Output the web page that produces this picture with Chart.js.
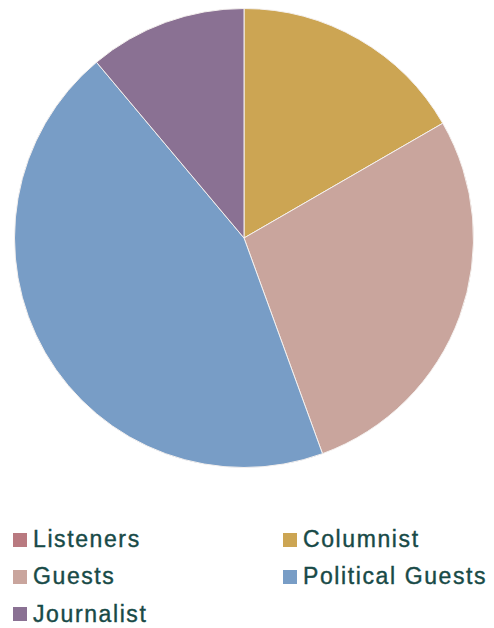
<!DOCTYPE html>
<html>
<head>
<meta charset="utf-8">
<script src="https://cdn.jsdelivr.net/npm/chart.js@4/dist/chart.umd.min.js"></script>
<style>
    html, body { margin: 0; padding: 0; background: #fff; }
    body { width: 494px; height: 628px; position: relative; overflow: hidden; }
    #chartBox { position: absolute; left: 0; top: 8px; width: 488px; height: 460px; }
    #legend {
        position: absolute; left: 13px; top: 521px; width: 481px;
        display: grid; grid-template-columns: 270px 211px; row-gap: 0;
        font-family: "Liberation Sans", Arial, sans-serif; font-size: 23px;
        letter-spacing: 1.6px; color: #184a47;
        -webkit-text-stroke: 0.4px #184a47;
    }
    .item { display: flex; align-items: center; height: 37.3px; white-space: nowrap; }
    .box { width: 14px; height: 14px; margin-right: 6px; flex: none; }
</style>
</head>
<body>
<div id="chartBox"><canvas id="myChart"></canvas></div>
<div id="legend"></div>

<script>
const labels = ['Listeners', 'Columnist', 'Guests', 'Political Guests', 'Journalist'];
const values = [0, 15, 25, 40, 10];
const colors = ['#b97a80', '#cca553', '#c9a59d', '#789dc6', '#8a7193'];

function buildLegend() {
    const legendDiv = document.getElementById('legend');
    legendDiv.innerHTML = labels.map((label, i) =>
        `<div class="item"><span class="box" style="background:${colors[i]}"></span>${label}</div>`
    ).join('');
}

const ctx = document.getElementById('myChart').getContext('2d');
const myChart = new Chart(ctx, {
    type: 'pie',
    data: {
        labels: labels,
        datasets: [{
            data: values,
            backgroundColor: colors,
            borderColor: '#f4f0ee',
            borderWidth: 1
        }]
    },
    options: {
        responsive: true,
        maintainAspectRatio: false,
        animation: false,
        layout: { padding: 0 },
        plugins: {
            legend: { display: false },
            tooltip: { enabled: false }
        }
    }
});

buildLegend();
</script>
</body>
</html>
